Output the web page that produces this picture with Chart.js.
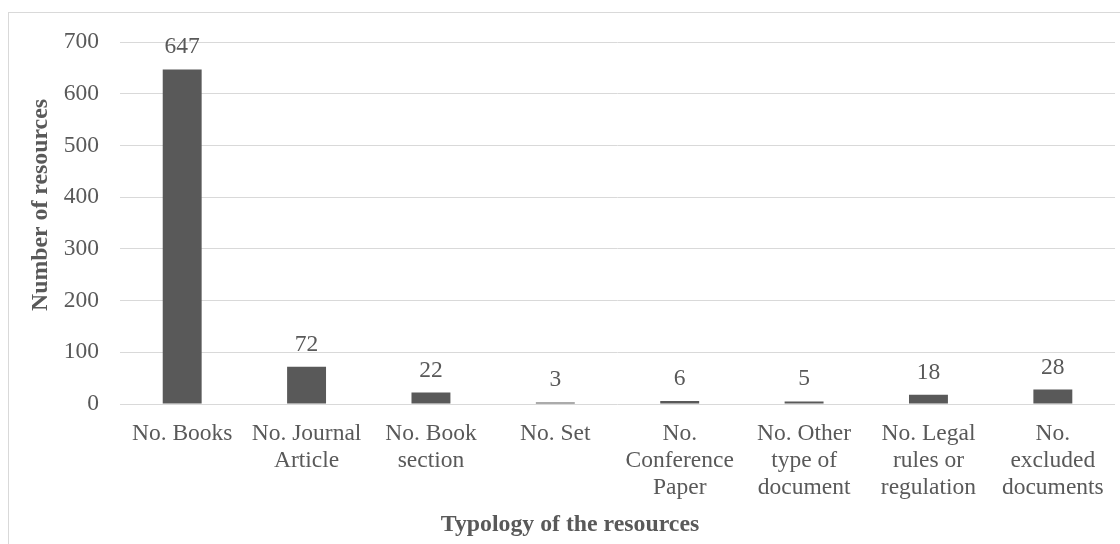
<!DOCTYPE html>
<html>
<head>
<meta charset="utf-8">
<script src="https://cdn.jsdelivr.net/npm/chart.js@4"></script>
<style>
  html, body { margin: 0; padding: 0; background: #fff; }
</style>
</head>
<body>
<canvas id="typology" width="1120" height="544"></canvas>
<script>
// resource types (x axis) and their counts
const categories = [
  ['No. Books'],
  ['No. Journal', 'Article'],
  ['No. Book', 'section'],
  ['No. Set'],
  ['No.', 'Conference', 'Paper'],
  ['No. Other', 'type of', 'document'],
  ['No. Legal', 'rules or', 'regulation'],
  ['No.', 'excluded', 'documents']
]
const resourceCounts = [647, 72, 22, 3, 6, 5, 18, 28]
const yTicks = [0, 100, 200, 300, 400, 500, 600, 700]
const xTitle = 'Typology of the resources'
const yTitle = 'Number of resources'

const TEXT = '#595959'
const GRID = '#d9d9d9'
const FONT = '"Liberation Serif", "Times New Roman", serif'

// frame round the chart area (only top + left visible in the picture)
const framePlugin = {
  id: 'frame',
  beforeDraw(chart) {
    const ctx = chart.ctx
    ctx.save()
    ctx.fillStyle = '#fff'
    ctx.fillRect(0, 0, chart.width, chart.height)
    ctx.strokeStyle = GRID
    ctx.lineWidth = 1
    ctx.strokeRect(8.5, 12.5, 1300, 700)
    ctx.restore()
  }
}

// numbers above each bar + the two axis titles (placed like the original, not centred on the plot)
const labelsPlugin = {
  id: 'valueLabels',
  afterDatasetsDraw(chart) {
    const ctx = chart.ctx
    const meta = chart.getDatasetMeta(0)
    ctx.save()
    ctx.fillStyle = TEXT
    ctx.font = '23.5px ' + FONT
    ctx.textAlign = 'center'
    ctx.textBaseline = 'alphabetic'
    meta.data.forEach((bar, i) => {
      ctx.fillText(String(resourceCounts[i]), bar.x, bar.y - 16)
    })

    ctx.font = 'bold 23.8px ' + FONT
    ctx.fillText(xTitle, 570, 531)

    ctx.translate(47, 205)
    ctx.rotate(-Math.PI / 2)
    ctx.fillText(yTitle, 0, 0)
    ctx.restore()
  }
}

new Chart(document.getElementById('typology'), {
  type: 'bar',
  data: {
    labels: categories,
    datasets: [{
      data: resourceCounts,
      backgroundColor: '#595959',
      borderWidth: 0,
      barPercentage: 1,
      categoryPercentage: 0.313
    }]
  },
  options: {
    responsive: false,
    animation: false,
    layout: { padding: { left: 8, top: 42, right: 4, bottom: 0 } },
    plugins: {
      legend: { display: false },
      tooltip: { enabled: false }
    },
    scales: {
      x: {
        grid: { display: false, drawTicks: false },
        border: { display: false },
        ticks: {
          color: TEXT,
          font: { family: FONT, size: 23.5, lineHeight: 1.15 },
          padding: 16,
          maxRotation: 0,
          autoSkip: false
        },
        afterFit(scale) { scale.height = 140 }
      },
      y: {
        min: 0,
        max: 700,
        afterBuildTicks(scale) { scale.ticks = yTicks.map(v => ({ value: v })) },
        grid: { color: GRID, lineWidth: 1, drawTicks: false },
        border: { display: false },
        ticks: {
          color: TEXT,
          font: { family: FONT, size: 23.5 },
          padding: 21
        },
        afterFit(scale) { scale.width = 112 }
      }
    }
  },
  plugins: [framePlugin, labelsPlugin]
})
</script>
</body>
</html>
